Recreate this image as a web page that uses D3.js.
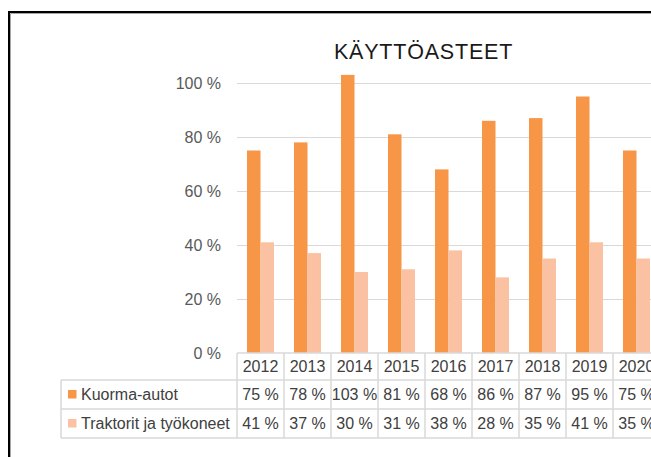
<!DOCTYPE html>
<html>
<head>
<meta charset="utf-8">
<script src="https://cdn.jsdelivr.net/npm/d3@7"></script>
<style>
	html, body { margin: 0; padding: 0; background: #fff; overflow: hidden; }
	svg { display: block; font-family: "Liberation Sans", Arial, sans-serif; }
</style>
</head>
<body>
<div id="chart"></div>
<script>
// data
const years = ['2012', '2013', '2014', '2015', '2016', '2017', '2018', '2019', '2020'];
const seriesNames = ['Kuorma-autot', 'Traktorit ja työkoneet'];
const kuormaAutot = [75, 78, 103, 81, 68, 86, 87, 95, 75];
const traktorit = [41, 37, 30, 31, 38, 28, 35, 41, 35];
const yTicks = [0, 20, 40, 60, 80, 100];
const colors = ['#f79646', '#fac1a2'];

const series = [kuormaAutot, traktorit];

const width = 651;
const height = 457;
const plotLeft = 237;
const bandWidth = 47;
const baseY = 353;
const topY = 83;
const rowLines = [353, 380, 409, 438];
const tableLeft = 61;

const svg = d3.select('#chart')
	.append('svg')
	.attr('width', width)
	.attr('height', height);

const x0 = d3.scaleBand()
	.domain(years)
	.range([plotLeft, plotLeft + bandWidth * years.length]);

const x1 = d3.scaleBand()
	.domain(d3.range(series.length))
	.range([10, bandWidth - 10]);

const y = d3.scaleLinear()
	.domain([0, 100])
	.range([baseY, topY]);

// gridlines
svg.append('g')
	.selectAll('line')
	.data(yTicks.filter((t)=>t > 0))
	.enter()
	.append('line')
	.attr('x1', plotLeft)
	.attr('x2', width)
	.attr('y1', (t)=>y(t) + 0.5)
	.attr('y2', (t)=>y(t) + 0.5)
	.attr('stroke', '#d9d9d9')
	.attr('stroke-width', 1);

// y tick labels
svg.append('g')
	.selectAll('text')
	.data(yTicks)
	.enter()
	.append('text')
	.attr('x', 221)
	.attr('y', (t)=>y(t))
	.attr('dy', '0.35em')
	.attr('text-anchor', 'end')
	.attr('font-size', 16)
	.attr('fill', '#595959')
	.text((t)=>`${t} %`);

// bars
const groups = svg.append('g')
	.selectAll('g')
	.data(series)
	.enter()
	.append('g')
	.attr('fill', (d, i)=>colors[i]);

groups.each(function(values, si) {
	d3.select(this).selectAll('rect')
	.data(values)
	.enter()
	.append('rect')
	.attr('x', (v, i)=>x0(years[i]) + x1(si))
	.attr('width', x1.bandwidth())
	.attr('y', (v)=>y(v))
	.attr('height', (v)=>y(0) - y(v));
});

// data table
const table = svg.append('g')
	.attr('stroke', '#d9d9d9')
	.attr('stroke-width', 1.5);

table.append('line')
	.attr('x1', plotLeft).attr('x2', width)
	.attr('y1', rowLines[0]).attr('y2', rowLines[0]);

table.selectAll('line.row')
	.data(rowLines.slice(1))
	.enter()
	.append('line')
	.attr('class', 'row')
	.attr('x1', tableLeft).attr('x2', width)
	.attr('y1', (r)=>r).attr('y2', (r)=>r);

table.append('line')
	.attr('x1', tableLeft).attr('x2', tableLeft)
	.attr('y1', rowLines[1]).attr('y2', rowLines[3]);

table.selectAll('line.col')
	.data(years.concat(['end']))
	.enter()
	.append('line')
	.attr('class', 'col')
	.attr('x1', (d, i)=>plotLeft + i * bandWidth)
	.attr('x2', (d, i)=>plotLeft + i * bandWidth)
	.attr('y1', rowLines[0])
	.attr('y2', rowLines[3]);

// header row: years
svg.append('g')
	.selectAll('text')
	.data(years)
	.enter()
	.append('text')
	.attr('x', (d)=>x0(d) + x0.bandwidth() / 2)
	.attr('y', (rowLines[0] + rowLines[1]) / 2)
	.attr('dy', '0.36em')
	.attr('text-anchor', 'middle')
	.attr('font-size', 16)
	.attr('fill', '#404040')
	.text((d)=>d);

// value rows
series.forEach(function(values, si) {
	const rowMid = (rowLines[si + 1] + rowLines[si + 2]) / 2;
	const row = svg.append('g');

	row.append('rect')
	.attr('x', 68)
	.attr('y', rowMid - 4.5)
	.attr('width', 8.5)
	.attr('height', 8.5)
	.attr('fill', colors[si]);

	row.append('text')
	.attr('x', 81)
	.attr('y', rowMid)
	.attr('dy', '0.36em')
	.attr('font-size', 16)
	.attr('fill', '#404040')
	.text(seriesNames[si]);

	row.selectAll('text.val')
	.data(values)
	.enter()
	.append('text')
	.attr('class', 'val')
	.attr('x', (v, i)=>x0(years[i]) + x0.bandwidth() / 2)
	.attr('y', rowMid)
	.attr('dy', '0.36em')
	.attr('text-anchor', 'middle')
	.attr('font-size', 16)
	.attr('fill', '#404040')
	.text((v)=>`${v} %`);
});

// title
svg.append('text')
	.attr('x', 423.5)
	.attr('y', 59)
	.attr('text-anchor', 'middle')
	.attr('font-size', 21.5)
	.attr('letter-spacing', 0.8)
	.attr('fill', '#1a1a1a')
	.text('KÄYTTÖASTEET');

// outer frame (chart is cropped on the right and bottom)
svg.append('path')
	.attr('d', `M10.5,${height} V13.5 H${width}`)
	.attr('fill', 'none')
	.attr('stroke', '#a6a6a6')
	.attr('stroke-width', 1);

svg.append('path')
	.attr('d', `M9,${height} V12 H${width}`)
	.attr('fill', 'none')
	.attr('stroke', '#000')
	.attr('stroke-width', 2);
</script>
</body>
</html>
